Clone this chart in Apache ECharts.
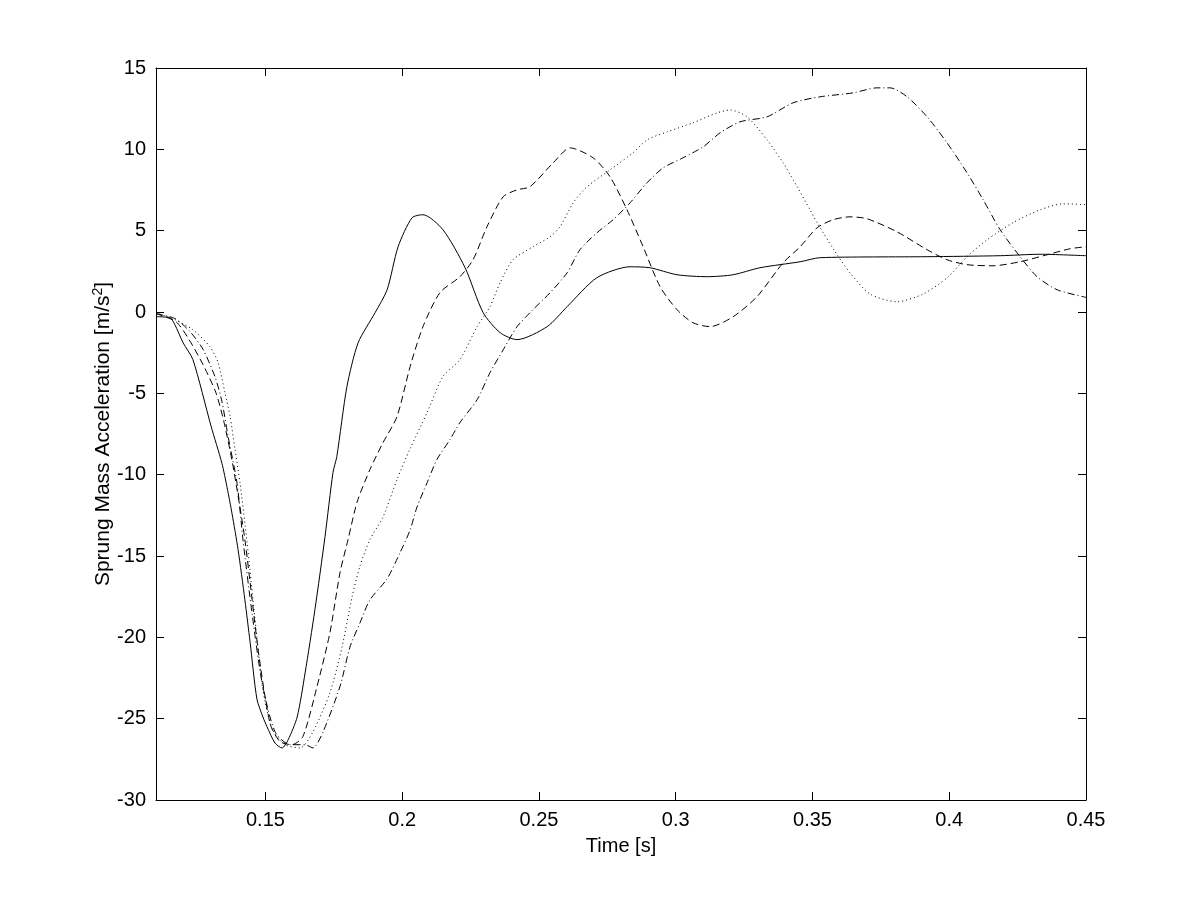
<!DOCTYPE html>
<html>
<head>
<meta charset="utf-8">
<script src="https://cdn.jsdelivr.net/npm/echarts@6/dist/echarts.min.js"></script>
<style>
  html, body { margin: 0; padding: 0; background: #fff; }
  #main { width: 1201px; height: 900px; }
</style>
</head>
<body>
<div id="main"></div>
<script>
// data (time in s, acceleration in m/s^2)
var xTicks = [0.15, 0.2, 0.25, 0.3, 0.35, 0.4, 0.45];

var solidT = [0.110, 0.1151, 0.1169, 0.1199, 0.1235, 0.1301, 0.1341, 0.1360, 0.1378, 0.1400, 0.1425, 0.1444, 0.1469, 0.1491, 0.1506, 0.1535, 0.1561, 0.1583, 0.1616, 0.1645, 0.1681, 0.1718, 0.1747, 0.1761, 0.1798, 0.1839, 0.1901, 0.1945, 0.1985, 0.2036, 0.2076, 0.2149, 0.2230, 0.2296, 0.2358, 0.2420, 0.2530, 0.2603, 0.2712, 0.2833, 0.2906, 0.3005, 0.3115, 0.3210, 0.3308, 0.3455, 0.3528, 0.3919, 0.4186, 0.4332, 0.45];
var solidV = [-0.29, -0.35, -0.78, -1.89, -2.93, -7.0, -9.3, -10.8, -12.4, -14.6, -17.7, -20.3, -23.8, -24.9, -25.5, -26.5, -26.8, -26.3, -24.9, -22.2, -18.3, -13.8, -9.87, -8.89, -4.59, -1.89, -0.04, 1.37, 4.01, 5.79, 5.98, 5.06, 2.72, -0.04, -1.27, -1.70, -0.90, 0.33, 2.11, 2.78, 2.72, 2.29, 2.17, 2.29, 2.72, 3.09, 3.34, 3.40, 3.46, 3.55, 3.46];

var dashT = [0.110, 0.1173, 0.1221, 0.1272, 0.1319, 0.1349, 0.1382, 0.1425, 0.1473, 0.1517, 0.1553, 0.1597, 0.1637, 0.1689, 0.1736, 0.1773, 0.1802, 0.1835, 0.1882, 0.1930, 0.1981, 0.2029, 0.2076, 0.2138, 0.2211, 0.2259, 0.2310, 0.2369, 0.2420, 0.2467, 0.2552, 0.2614, 0.2698, 0.2760, 0.2822, 0.2881, 0.2943, 0.3005, 0.3063, 0.3126, 0.3210, 0.3297, 0.3393, 0.3455, 0.3517, 0.3575, 0.3637, 0.3700, 0.3809, 0.3919, 0.3992, 0.4065, 0.4160, 0.4259, 0.4358, 0.4442, 0.45];
var dashV = [-0.1, -0.6, -1.70, -3.24, -4.96, -6.80, -9.50, -14.0, -20.7, -25.3, -26.4, -26.6, -26.1, -23.0, -19.7, -16.0, -14.0, -11.7, -9.69, -8.03, -6.43, -3.36, -0.90, 1.19, 2.17, 3.21, 5.24, 7.08, 7.51, 7.70, 9.17, 10.09, 9.48, 8.31, 6.28, 4.01, 1.55, 0.14, -0.66, -0.90, -0.29, 0.94, 3.03, 4.01, 5.18, 5.67, 5.85, 5.73, 4.93, 3.83, 3.21, 2.91, 2.84, 3.09, 3.52, 3.89, 4.01];

var dotT = [0.110, 0.1169, 0.1235, 0.1297, 0.1327, 0.1352, 0.1371, 0.1389, 0.1407, 0.1433, 0.1462, 0.1491, 0.1524, 0.1572, 0.1627, 0.1674, 0.1736, 0.1780, 0.1817, 0.1846, 0.1882, 0.1930, 0.1981, 0.2029, 0.2091, 0.2149, 0.2211, 0.2274, 0.2321, 0.2358, 0.2405, 0.2478, 0.2541, 0.2577, 0.2625, 0.2676, 0.2760, 0.2844, 0.2895, 0.2968, 0.3063, 0.3151, 0.3199, 0.3261, 0.3334, 0.3393, 0.3444, 0.3491, 0.3517, 0.3578, 0.3637, 0.3711, 0.3809, 0.3904, 0.3992, 0.4065, 0.4138, 0.4233, 0.4332, 0.4416, 0.45];
var dotV = [-0.05, -0.47, -1.09, -2.13, -3.11, -4.96, -6.43, -8.46, -10.49, -14.17, -18.9, -23.2, -25.6, -26.6, -26.8, -25.8, -23.4, -20.6, -17.5, -15.6, -14.0, -12.6, -10.3, -8.4, -6.19, -3.97, -2.93, -0.90, 0.33, 1.80, 3.21, 4.01, 4.63, 5.24, 6.71, 7.70, 8.74, 9.79, 10.58, 11.07, 11.63, 12.24, 12.42, 12.00, 10.58, 9.17, 7.70, 6.28, 5.49, 3.83, 2.41, 1.10, 0.63, 1.10, 2.10, 3.40, 4.44, 5.49, 6.28, 6.65, 6.60];

var dashDotT = [0.110, 0.1169, 0.1224, 0.1272, 0.1316, 0.1341, 0.1363, 0.1396, 0.1418, 0.1451, 0.1488, 0.1535, 0.1590, 0.1645, 0.1674, 0.1711, 0.1773, 0.1809, 0.1846, 0.1882, 0.1945, 0.1992, 0.2029, 0.2054, 0.2091, 0.2127, 0.2175, 0.2211, 0.2274, 0.2321, 0.2369, 0.2420, 0.2478, 0.2541, 0.2603, 0.2650, 0.2712, 0.2771, 0.2833, 0.2895, 0.2954, 0.3027, 0.3100, 0.3162, 0.3235, 0.3334, 0.3429, 0.3528, 0.3648, 0.3736, 0.3784, 0.3846, 0.3919, 0.3992, 0.4065, 0.4124, 0.4186, 0.4259, 0.4321, 0.4394, 0.4489, 0.45];
var dashDotV = [-0.1, -0.4, -1.2, -2.3, -4.0, -5.5, -7.6, -10.5, -14.0, -18.5, -22.8, -25.8, -26.6, -26.6, -26.8, -25.8, -23.0, -20.6, -19.1, -17.7, -16.4, -14.8, -13.4, -12.0, -10.5, -9.07, -7.84, -6.80, -5.39, -3.73, -2.33, -0.90, 0.14, 1.19, 2.41, 3.83, 4.87, 5.67, 6.71, 7.94, 8.86, 9.48, 10.15, 11.01, 11.69, 12.00, 12.86, 13.23, 13.47, 13.78, 13.78, 13.23, 12.00, 10.4, 8.56, 6.90, 5.06, 3.40, 2.17, 1.37, 0.94, 0.90];

function zip(t, v) {
    return t.map(function (x, i) { return [x, v[i]]; });
}

var myChart = echarts.init(document.getElementById('main'));

var fontFam = 'Liberation Sans, Arial, sans-serif';

function lineSeries(name, t, v, dash) {
    return {
        name: name,
        type: 'line',
        data: zip(t, v),
        showSymbol: false,
        smooth: 0.25,
        animation: false,
        lineStyle: { color: '#000', width: 1, type: dash }
    };
}

option = {
    backgroundColor: '#fff',
    grid: { left: 156, top: 68, right: 115, bottom: 100 },
    xAxis: [{
        type: 'value',
        min: 0.11,
        max: 0.45,
        name: 'Time [s]',
        nameLocation: 'middle',
        nameGap: 36,
        nameMoveOverlap: false,
        nameTextStyle: { color: '#000', fontSize: 20, fontFamily: fontFam },
        axisLine: { show: true, onZero: false, lineStyle: { color: '#000', width: 1 } },
        axisTick: { show: true, inside: true, length: 8, customValues: xTicks, lineStyle: { color: '#000' } },
        axisLabel: {
            show: true, customValues: xTicks, margin: 10,
            color: '#000', fontSize: 20, fontFamily: fontFam,
            formatter: function (v) { return String(+v.toFixed(2)); }
        },
        splitLine: { show: false }
    }, {
        type: 'value',
        position: 'top',
        min: 0.11,
        max: 0.45,
        axisLine: { show: true, onZero: false, lineStyle: { color: '#000', width: 1 } },
        axisTick: { show: true, inside: true, length: 8, customValues: xTicks, lineStyle: { color: '#000' } },
        axisLabel: { show: false },
        splitLine: { show: false }
    }],
    yAxis: [{
        type: 'value',
        min: -30,
        max: 15,
        interval: 5,
        name: 'Sprung Mass Acceleration [m/s{sup|2}]',
        nameLocation: 'middle',
        nameGap: 41,
        nameMoveOverlap: false,
        nameTextStyle: {
            color: '#000', fontSize: 21, fontFamily: fontFam, lineHeight: 24,
            rich: { sup: { fontSize: 14, fontFamily: fontFam, color: '#000', verticalAlign: 'top', lineHeight: 14 } }
        },
        axisLine: { show: true, onZero: false, lineStyle: { color: '#000', width: 1 } },
        axisTick: { show: true, inside: true, length: 8, lineStyle: { color: '#000' } },
        axisLabel: { color: '#000', fontSize: 20, fontFamily: fontFam, margin: 10 },
        splitLine: { show: false }
    }, {
        type: 'value',
        position: 'right',
        min: -30,
        max: 15,
        interval: 5,
        axisLine: { show: true, onZero: false, lineStyle: { color: '#000', width: 1 } },
        axisTick: { show: true, inside: true, length: 8, lineStyle: { color: '#000' } },
        axisLabel: { show: false },
        splitLine: { show: false }
    }],
    series: [
        lineSeries('solid', solidT, solidV, 'solid'),
        lineSeries('dashed', dashT, dashV, [7, 4]),
        lineSeries('dotted', dotT, dotV, [1, 3]),
        lineSeries('dashdot', dashDotT, dashDotV, [7, 3, 1, 3])
    ]
};
myChart.setOption(option);
</script>
</body>
</html>
